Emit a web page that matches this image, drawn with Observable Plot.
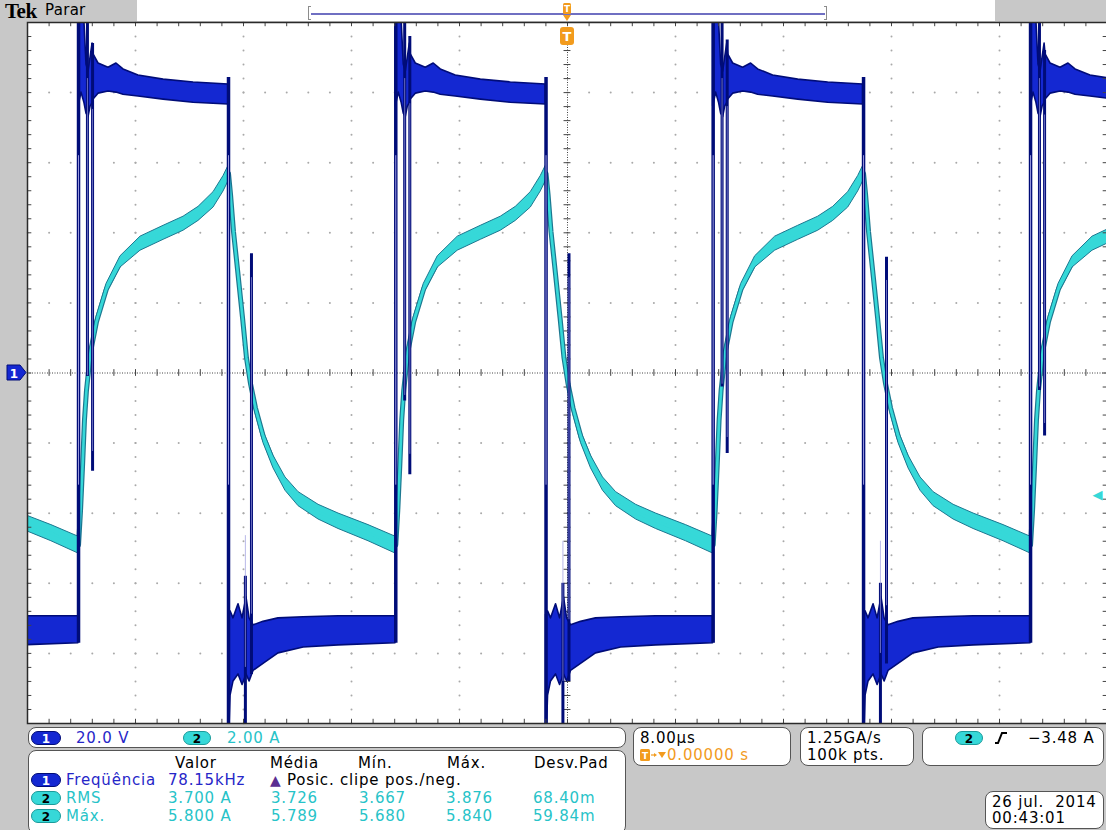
<!DOCTYPE html>
<html><head><meta charset="utf-8">
<script src="https://cdn.jsdelivr.net/npm/d3@7"></script>
<script src="https://cdn.jsdelivr.net/npm/@observablehq/plot@0.6"></script>
<style>
html,body{margin:0;padding:0;overflow:hidden;background:#c8c8c8;}
#scope{position:relative;width:1106px;height:830px;overflow:hidden;background:#c8c8c8;font-family:"DejaVu Sans",sans-serif;}
#scope svg.plotsvg{position:absolute;left:0;top:0;}
.abs{position:absolute;white-space:pre;}
.box{position:absolute;background:#fff;border:1px solid #555;border-radius:8px;box-sizing:border-box;}
.t{position:absolute;white-space:pre;font-size:15px;letter-spacing:0.8px;line-height:18px;height:18px;}
.pill{position:absolute;height:14px;border-radius:7px;font-size:12px;line-height:14px;text-align:center;font-weight:bold;}
</style></head><body><div id="scope"></div>
<script>
// ---------------- scope settings (read from the readouts) ----------------
const timePerDivUs = 8;          // 8.00 µs/div
const ch1VoltsPerDiv = 20;       // 20.0 V/div
const ch2AmpsPerDiv = 2;         // 2.00 A/div
const hDivs = 10, vDivs = 10;
const triggerLevelA = -3.48;

// ---------------- switching edges (µs from trigger) ----------------
const risingEdgesUs  = [-36.22, -12.72, 10.79, 34.30];
const fallingEdgesUs = [-48.60, -25.11, -1.59, 21.93, 45.43];

// ---------------- channel 2 current, one cycle (µs after edge, A, noise half-width A) ----------------
const curRiseT = [0, 0.15, 0.30, 0.44, 0.59, 0.89, 1.33, 2.07, 3.11, 4.59, 6.30, 7.78, 8.89, 10.00, 10.74, 11.11];
const curRiseA = [-4.91, -3.91, -2.63, -1.34, -0.49, 0.60, 1.46, 2.40, 3.17, 3.69, 4.00, 4.26, 4.54, 4.94, 5.40, 5.69];
const curRiseN = [0.11, 0.11, 0.11, 0.11, 0.11, 0.14, 0.14, 0.14, 0.16, 0.20, 0.20, 0.20, 0.20, 0.22, 0.22, 0.22];
const curFallT = [0, 0.15, 0.37, 0.67, 1.04, 1.33, 1.63, 2.00, 2.59, 3.33, 4.22, 5.19, 6.67, 8.15, 10.37, 12.37];
const curFallA = [5.69, 5.09, 4.03, 2.94, 1.57, 0.43, -0.31, -1.00, -1.83, -2.54, -3.17, -3.60, -3.97, -4.23, -4.57, -4.91];
const curFallN = [0.11, 0.11, 0.11, 0.12, 0.13, 0.14, 0.14, 0.15, 0.17, 0.18, 0.19, 0.20, 0.21, 0.22, 0.23, 0.24];

// ---------------- channel 1 voltage envelope, one cycle (µs after edge, max V, min V) ----------------
const vHighT   = [0, 0.22, 0.44, 0.59, 0.74, 0.89, 1.04, 1.11, 1.48, 2.22, 2.81, 3.33, 4.44, 6.30, 8.52, 11.11];
const vHighMax = [110, 110, 100, 88, 86, 90, 94, 90.9, 88.3, 87.1, 88.3, 86.6, 84.9, 83.7, 82.9, 82.3];
const vHighMin = [76, 80, 77, 74, 73, 76, 77, 78.0, 79.7, 80.3, 80.0, 79.4, 78.9, 78.0, 77.1, 76.6];
const vLowT    = [0, 0.15, 0.37, 0.74, 1.04, 1.33, 1.56, 1.85, 2.59, 3.70, 5.56, 8.15, 12.37];
const vLowMax  = [-69, -68, -70, -66, -70, -64, -70, -72, -71, -70, -69.7, -69.4, -69.4];
const vLowMin  = [-110, -92, -88, -86, -89, -86, -88, -85, -83, -80, -78.3, -77.7, -77.1];

// ringing spikes (V)
const turnOnSpikeDelayUs = [0.66, 1.04];
const turnOnSpikeTopV    = [[105, 94], [105, 96], [105, 95], [105, 92]];
const turnOnSpikeBottomV = [[-1, -28], [-8, -29], [-4, -23], [-5, -18]];
const turnOffSpikeDelayUs = [1.25, 1.70];
const turnOffSpikeTopV    = [[-58, 34], [-60, 34], [-60, 33]];
const turnOffSpikeBottomV = [[-105, -86], [-110, -88], [-100, -83]];
const edgeHighlightV = [62, -32];

// ---------------- readout texts ----------------
const channelScaleLabels = ["20.0 V", "2.00 A"];
const measHeaders = ["Valor", "Média", "Mín.", "Máx.", "Desv.Pad"];
const measNames = ["Freqüência", "RMS", "Máx."];
const measChannels = [1, 2, 2];
const freqValue = "78.15kHz";
const freqNote = "Posic. clipe pos./neg.";
const rmsValues = ["3.700 A", "3.726", "3.667", "3.876", "68.40m"];
const maxValues = ["5.800 A", "5.789", "5.680", "5.840", "59.84m"];
const horizLabels = ["8.00µs", "0.00000 s"];
const acqLabels = ["1.25GA/s", "100k pts."];
const trigLabel = "−3.48 A";
const dateLabels = ["26 jul.  2014", "00:43:01"];

// ---------------- colours ----------------
const C1 = "#1428d2", C1dark = "#000c78", C1text = "#2626c8", lavender = "#9a9ade";
const C2 = "#36d8d8", C2dark = "#1c7890", C2text = "#27c3c8";
const ORANGE = "#f29b1d";

// ---------------- build traces ----------------
const volt = [], cur = [], edges = [], spikes = [];
fallingEdgesUs.forEach((f, i) => {
  vLowT.forEach((dt, k) => volt.push({seg: "L" + i, t: f + dt, hi: vLowMax[k], lo: vLowMin[k]}));
  curFallT.forEach((dt, k) => cur.push({t: f + dt, a: curFallA[k], n: curFallN[k]}));
  edges.push({t: f, from: vHighMax[vHighMax.length - 1] + 2, to: vLowMin[0]});
  const r = risingEdgesUs[i];
  if (r !== undefined) {
    vHighT.forEach((dt, k) => volt.push({seg: "H" + i, t: r + dt, hi: vHighMax[k], lo: vHighMin[k]}));
    curRiseT.forEach((dt, k) => cur.push({t: r + dt, a: curRiseA[k], n: curRiseN[k]}));
    edges.push({t: r, from: vLowMin[vLowMin.length - 1], to: vHighMax[0]});
    turnOnSpikeDelayUs.forEach((d, k) => spikes.push({t: r + d, top: turnOnSpikeTopV[i][k], bottom: turnOnSpikeBottomV[i][k]}));
  }
});
fallingEdgesUs.slice(1, 4).forEach((f, i) => {
  turnOffSpikeDelayUs.forEach((d, k) => spikes.push({t: f + d, top: turnOffSpikeTopV[i][k], bottom: turnOffSpikeBottomV[i][k]}));
});

const yV = v => v / ch1VoltsPerDiv;
const yA = a => a / ch2AmpsPerDiv;
const halfX = timePerDivUs * hDivs / 2;
const halfY = vDivs / 2;

const majorX = d3.range(-hDivs / 2, hDivs / 2 + 1).map(d => d * timePerDivUs);
const minorX = d3.range(-hDivs / 2 * 5, hDivs / 2 * 5 + 1).map(d => d * timePerDivUs / 5);
const majorY = d3.range(-vDivs / 2, vDivs / 2 + 1);
const minorY = d3.range(-vDivs / 2 * 5, vDivs / 2 * 5 + 1).map(d => d / 5);
const gridDots = [];
for (const mx of majorX) if (mx !== 0 && Math.abs(mx) !== halfX) for (const my of minorY) gridDots.push({t: mx, y: my});
for (const my of majorY) if (my !== 0 && Math.abs(my) !== halfY) for (const mx of minorX) gridDots.push({t: mx, y: my});

const tickLenX = timePerDivUs * 0.04;  // ~4 px
const tickLenY = 0.06;

const chart = Plot.plot({
  width: 1107, height: 725,
  marginTop: 22, marginBottom: 2, marginLeft: 27, marginRight: 0,
  x: {domain: [-halfX, halfX], axis: null},
  y: {domain: [-halfY, halfY], axis: null},
  style: {background: "transparent", maxWidth: "none", overflow: "visible"},
  marks: [
    Plot.frame({fill: "white", stroke: null}),
    Plot.dot(gridDots, {x: "t", y: "y", r: 1, fill: "#a9a9a9", stroke: null}),
    Plot.ruleY([0], {stroke: "#444", strokeDasharray: "1,1.5"}),
    Plot.ruleX([0], {stroke: "#444", strokeDasharray: "1,1.5"}),
    Plot.ruleX(minorX, {x: d => d, y1: -tickLenY * 0.8, y2: tickLenY * 0.8, stroke: "#444"}),
    Plot.ruleY(minorY, {y: d => d, x1: -tickLenX * 0.8, x2: tickLenX * 0.8, stroke: "#444"}),
    // channel 2 (current)
    Plot.lineY(cur, {x: "t", y: d => yA(d.a), stroke: C2dark, strokeWidth: 5, clip: true}),
    Plot.areaY(cur, {x: "t", y1: d => yA(d.a - d.n), y2: d => yA(d.a + d.n), fill: C2, stroke: C2dark, strokeWidth: 1, clip: true}),
    Plot.lineY(cur, {x: "t", y: d => yA(d.a), stroke: C2, strokeWidth: 2.6, clip: true}),
    // channel 1 (voltage)
    Plot.areaY(volt, {x: "t", y1: d => yV(d.lo), y2: d => yV(d.hi), z: "seg", fill: C1, stroke: C1dark, strokeWidth: 1.6, clip: true}),
    Plot.ruleX(edges, {x: "t", y1: d => yV(d.from), y2: d => yV(d.to), stroke: C1dark, strokeWidth: 3.5, clip: true}),
    Plot.ruleX(edges, {x: "t", y1: yV(edgeHighlightV[0]), y2: yV(edgeHighlightV[1]), stroke: lavender, strokeWidth: 1, clip: true}),
    Plot.ruleX(spikes, {x: "t", y1: d => yV(d.bottom), y2: d => yV(d.top), stroke: C1dark, strokeWidth: 3, clip: true}),
    Plot.ruleX(spikes, {x: "t", y1: d => yV(d.bottom * 0.8), y2: d => yV(d.top * 0.8), stroke: lavender, strokeWidth: 0.7, clip: true}),
    // border ticks
    Plot.ruleX(minorX, {x: d => d, y1: halfY, y2: halfY - tickLenY, stroke: "#444"}),
    Plot.ruleX(minorX, {x: d => d, y1: -halfY, y2: -halfY + tickLenY, stroke: "#444"}),
    Plot.ruleY(minorY, {y: d => d, x1: -halfX, x2: -halfX + tickLenX, stroke: "#444"}),
    Plot.ruleY(minorY, {y: d => d, x1: halfX, x2: halfX - tickLenX, stroke: "#444"}),
    Plot.frame({stroke: "#2a2a2a", strokeWidth: 1.5}),
    // trigger level indicator
    Plot.text([triggerLevelA], {x: halfX, y: d => yA(d), text: () => "◀", dx: -10, fill: C2, fontSize: 13, fontFamily: "DejaVu Sans"})
  ]
});
chart.classList.add("plotsvg");

const scope = document.getElementById("scope");
function el(tag, cls, css, text) {
  const e = document.createElement(tag);
  if (cls) e.className = cls;
  Object.assign(e.style, css);
  if (text !== undefined) e.textContent = text;
  scope.appendChild(e);
  return e;
}
function txt(left, cy, s, color, extra) { return el("div", "t", Object.assign({left: left + "px", top: (cy - 9) + "px", color}, extra || {}), s); }
function pill(left, cy, w, ch) {
  return el("div", "pill", {left: left + "px", top: (cy - 7) + "px", width: w + "px",
    background: ch === 1 ? C1 : C2, color: ch === 1 ? "#fff" : "#000",
    border: "1px solid " + (ch === 1 ? C1dark : "#1a9a9a"), boxSizing: "border-box"}, String(ch));
}

// top bar
el("div", "abs", {left: "137px", top: "0px", width: "858px", height: "21px", background: "#fff"});
el("div", "abs", {left: "311px", top: "13px", width: "514px", height: "1.5px", background: "#6f6fc2"});
el("div", "abs", {left: "308px", top: "6px", width: "3px", height: "14px", borderLeft: "1.5px solid #8c8c8c", borderTop: "1.5px solid #8c8c8c", borderBottom: "1.5px solid #8c8c8c", boxSizing: "border-box"});
el("div", "abs", {left: "824px", top: "6px", width: "3px", height: "14px", borderRight: "1.5px solid #8c8c8c", borderTop: "1.5px solid #8c8c8c", borderBottom: "1.5px solid #8c8c8c", boxSizing: "border-box"});
scope.appendChild(chart);
el("div", "abs", {left: "5px", top: "0px", fontFamily: "'Liberation Serif',serif", fontWeight: "bold", fontSize: "21px", lineHeight: "22px", color: "#000", letterSpacing: "-0.5px"}, "Tek");
el("div", "abs", {left: "45px", top: "1px", fontSize: "15px", lineHeight: "18px", color: "#000", letterSpacing: "0.3px"}, "Parar");

// trigger position marker
const tm = document.createElementNS("http://www.w3.org/2000/svg", "svg");
tm.setAttribute("width", "18"); tm.setAttribute("height", "48");
Object.assign(tm.style, {position: "absolute", left: "558px", top: "0px"});
tm.innerHTML = `<rect x="5" y="3" width="8" height="11" rx="1.5" fill="${ORANGE}"/><text x="9" y="12" font-size="9" font-weight="bold" text-anchor="middle" fill="#fff" font-family="DejaVu Sans">T</text>
<path d="M5,15 L13,15 L9,21 Z" fill="${ORANGE}"/>
<rect x="2" y="27" width="14" height="18" rx="3" fill="${ORANGE}"/><text x="9" y="41" font-size="13" font-weight="bold" text-anchor="middle" fill="#fff" font-family="DejaVu Sans">T</text>`;
scope.appendChild(tm);

// channel 1 ground marker
const gm = document.createElementNS("http://www.w3.org/2000/svg", "svg");
gm.setAttribute("width", "22"); gm.setAttribute("height", "17");
Object.assign(gm.style, {position: "absolute", left: "6px", top: "364px"});
gm.innerHTML = `<path d="M1,1 H14 L20,8.5 L14,16 H1 Z" fill="${C1}" stroke="${C1dark}" stroke-width="1"/><text x="8" y="13.5" font-size="12" font-weight="bold" text-anchor="middle" fill="#fff" font-family="DejaVu Sans">1</text>`;
scope.appendChild(gm);

// bottom boxes
el("div", "box", {left: "28px", top: "727px", width: "598px", height: "21px"});
el("div", "box", {left: "28px", top: "750px", width: "598px", height: "84px"});
el("div", "box", {left: "633px", top: "727px", width: "158px", height: "39px"});
el("div", "box", {left: "800px", top: "727px", width: "114px", height: "39px"});
el("div", "box", {left: "922px", top: "727px", width: "182px", height: "39px"});
el("div", "box", {left: "985px", top: "791px", width: "119px", height: "38px"});

// channel scales
pill(31, 737.5, 30, 1); txt(76, 737.5, channelScaleLabels[0], C1text);
pill(183, 737.5, 28, 2); txt(227, 737.5, channelScaleLabels[1], C2text);

// measurement table
const colX = [168, 271, 359, 446, 533];
const headX = [175, 270, 358, 447, 534];
measHeaders.forEach((h, i) => txt(headX[i], 763, h, "#000"));
const rowY = [780, 798, 816];
measNames.forEach((n, i) => {
  pill(31, rowY[i], 30, measChannels[i]);
  txt(66, rowY[i], n, measChannels[i] === 1 ? C1text : C2text);
});
txt(colX[0], rowY[0], freqValue, C1text);
el("div", "abs", {left: "270px", top: (rowY[0] - 9) + "px", fontSize: "14px", lineHeight: "18px", color: "#5b2d91"}, "▲");
txt(287, rowY[0], freqNote, "#000");
rmsValues.forEach((v, i) => txt(colX[i], rowY[1], v, C2text));
maxValues.forEach((v, i) => txt(colX[i], rowY[2], v, C2text));

// horizontal box
txt(640, 738, horizLabels[0], "#000");
const hi = document.createElementNS("http://www.w3.org/2000/svg", "svg");
hi.setAttribute("width", "28"); hi.setAttribute("height", "14");
Object.assign(hi.style, {position: "absolute", left: "639px", top: "748px"});
hi.innerHTML = `<rect x="1" y="1" width="10" height="12" rx="1.5" fill="${ORANGE}"/><text x="6" y="11" font-size="9" font-weight="bold" text-anchor="middle" fill="#fff" font-family="DejaVu Sans">T</text>
<path d="M12,7 H16" stroke="${ORANGE}" stroke-width="1.2"/><path d="M15,5 L18,7 L15,9 Z" fill="${ORANGE}"/><path d="M19,4 L27,4 L23,10 Z" fill="${ORANGE}"/>`;
scope.appendChild(hi);
txt(667, 755, horizLabels[1], ORANGE);

// acquisition box
txt(807, 738, acqLabels[0], "#000");
txt(807, 755, acqLabels[1], "#000");

// trigger box
pill(955, 738, 28, 2);
const ei = document.createElementNS("http://www.w3.org/2000/svg", "svg");
ei.setAttribute("width", "16"); ei.setAttribute("height", "16");
Object.assign(ei.style, {position: "absolute", left: "993px", top: "730px"});
ei.innerHTML = `<path d="M2,13 H5 L9,3 H14" stroke="#000" stroke-width="2" fill="none"/>`;
scope.appendChild(ei);
txt(1028, 738, trigLabel, "#000");

// date box
txt(992, 802, dateLabels[0], "#000");
txt(992, 818, dateLabels[1], "#000");
</script></body></html>
